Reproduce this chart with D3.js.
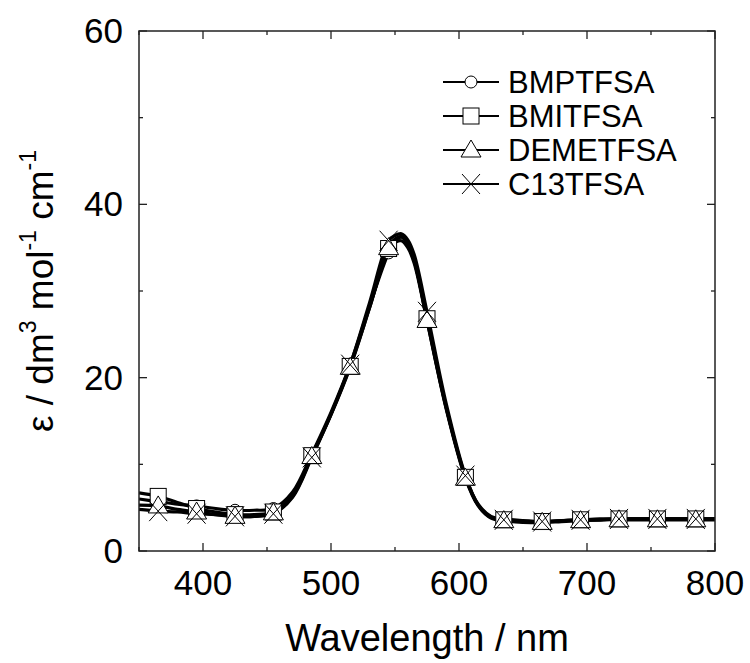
<!DOCTYPE html>
<html>
<head>
<meta charset="utf-8">
<script src="https://d3js.org/d3.v7.min.js"></script>
<style>
  body { margin: 0; background: #fff; }
  text { font-family: Arial, "Liberation Sans", sans-serif; fill: #000; }
</style>
</head>
<body>
<svg id="chart" width="750" height="663"></svg>
<script>
  // wavelength grid (nm)
  const wavelengths = [350, 365, 380, 395, 410, 425, 440, 455, 470, 485, 500, 515, 530, 545, 550, 555, 560, 565, 575, 590, 605, 615, 625, 635, 650, 665, 680, 695, 710, 725, 740, 755, 770, 785, 800];
  // markers every 30 nm
  const markerWavelengths = [365, 395, 425, 455, 485, 515, 545, 575, 605, 635, 665, 695, 725, 755, 785];

  const seriesNames = ["BMPTFSA", "BMITFSA", "DEMETFSA", "C13TFSA"];
  const seriesSymbols = ["circle", "square", "triangle", "cross"];

  const bmptfsa = [6.0, 5.7, 5.4, 5.2, 4.9, 4.7, 4.7, 4.9, 6.8, 11.2, 16.0, 21.5, 28.2, 34.4, 35.6, 35.8, 35.0, 33.2, 26.6, 16.5, 8.6, 5.4, 4.0, 3.7, 3.5, 3.4, 3.5, 3.6, 3.7, 3.7, 3.7, 3.7, 3.7, 3.7, 3.7];
  const bmitfsa = [6.7, 6.3, 5.6, 4.9, 4.5, 4.2, 4.2, 4.5, 6.4, 11.0, 15.8, 21.3, 28.0, 34.9, 35.8, 36.2, 35.4, 33.5, 26.8, 16.6, 8.5, 5.3, 3.9, 3.6, 3.4, 3.4, 3.5, 3.6, 3.6, 3.7, 3.7, 3.7, 3.7, 3.7, 3.7];
  const demetfsa = [5.3, 5.2, 4.8, 4.5, 4.2, 4.0, 4.0, 4.4, 6.3, 10.9, 15.7, 21.2, 28.0, 35.0, 36.0, 36.3, 35.6, 33.6, 26.6, 16.4, 8.4, 5.2, 3.8, 3.5, 3.3, 3.3, 3.4, 3.5, 3.6, 3.6, 3.6, 3.6, 3.6, 3.6, 3.6];
  const c13tfsa = [4.8, 4.6, 4.5, 4.3, 4.2, 4.0, 4.0, 4.3, 6.2, 10.8, 15.8, 21.5, 28.6, 35.8, 36.4, 36.6, 35.9, 34.2, 27.6, 17.0, 8.7, 5.3, 3.9, 3.6, 3.4, 3.4, 3.5, 3.6, 3.6, 3.7, 3.7, 3.7, 3.7, 3.7, 3.7];
  const allSeries = [bmptfsa, bmitfsa, demetfsa, c13tfsa];

  const xTicks = [400, 500, 600, 700, 800];
  const xMinorTicks = [350, 450, 550, 650, 750];
  const yTicks = [0, 20, 40, 60];
  const yMinorTicks = [10, 30, 50];

  const svg = d3.select("#chart");
  const mLeft = 139, mRight = 715, mTop = 31, mBottom = 551;

  let x = d3.scaleLinear().domain([350, 800]).range([mLeft, mRight]);
  let y = d3.scaleLinear().domain([0, 60]).range([mBottom, mTop]);

  let plot = svg.append("g");

  // inward ticks on all four sides
  const frameColor = "#222";
  function ticks(scale, vals, len, side) {
    vals.forEach(v => {
      let p = scale(v);
      if (side === "bottom") plot.append("line").attr("x1", p).attr("x2", p).attr("y1", mBottom).attr("y2", mBottom - len);
      if (side === "top") plot.append("line").attr("x1", p).attr("x2", p).attr("y1", mTop).attr("y2", mTop + len);
      if (side === "left") plot.append("line").attr("x1", mLeft).attr("x2", mLeft + len).attr("y1", p).attr("y2", p);
      if (side === "right") plot.append("line").attr("x1", mRight).attr("x2", mRight - len).attr("y1", p).attr("y2", p);
    });
  }
  ticks(x, xTicks, 8, "bottom");
  ticks(x, xMinorTicks, 4, "bottom");
  ticks(x, xTicks, 8, "top");
  ticks(x, xMinorTicks, 4, "top");
  ticks(y, yTicks, 8, "left");
  ticks(y, yMinorTicks, 4, "left");
  ticks(y, yTicks, 8, "right");
  ticks(y, yMinorTicks, 4, "right");
  plot.selectAll("line").attr("stroke", frameColor).attr("stroke-width", 1.3);

  // curves
  let line = d3.line()
    .x((d, i) => x(wavelengths[i]))
    .y(d => y(d))
    .curve(d3.curveCatmullRom.alpha(0.5));

  svg.append("clipPath").attr("id", "clip")
    .append("rect").attr("x", mLeft).attr("y", mTop).attr("width", mRight - mLeft).attr("height", mBottom - mTop);

  let curves = svg.append("g").attr("clip-path", "url(#clip)");
  allSeries.forEach(s => {
    curves.append("path")
      .attr("d", line(s))
      .attr("fill", "none")
      .attr("stroke", "#000")
      .attr("stroke-width", 3.2);
  });

  // marker drawing
  function drawMarker(g, type, cx, cy) {
    if (type === "circle") {
      g.append("circle").attr("cx", cx).attr("cy", cy).attr("r", 6)
        .attr("fill", "#fff").attr("stroke", "#000").attr("stroke-width", 1);
    } else if (type === "square") {
      g.append("rect").attr("x", cx - 8).attr("y", cy - 8).attr("width", 16).attr("height", 16)
        .attr("fill", "#fff").attr("stroke", "#000").attr("stroke-width", 1);
    } else if (type === "triangle") {
      g.append("path").attr("d", `M${cx},${cy - 10}L${cx + 10},${cy + 7}L${cx - 10},${cy + 7}Z`)
        .attr("fill", "#fff").attr("stroke", "#000").attr("stroke-width", 1);
    } else {
      g.append("path").attr("d", `M${cx - 9},${cy - 10}L${cx + 9},${cy + 10}M${cx + 9},${cy - 10}L${cx - 9},${cy + 10}`)
        .attr("fill", "none").attr("stroke", "#000").attr("stroke-width", 1);
    }
  }

  let markers = svg.append("g");
  allSeries.forEach((s, k) => {
    markerWavelengths.forEach(w => {
      let i = wavelengths.indexOf(w);
      drawMarker(markers, seriesSymbols[k], x(w), y(s[i]));
    });
  });

  // frame
  svg.append("rect")
    .attr("x", mLeft).attr("y", mTop)
    .attr("width", mRight - mLeft).attr("height", mBottom - mTop)
    .attr("fill", "none").attr("stroke", frameColor).attr("stroke-width", 1.5);

  // tick labels
  svg.selectAll(".xl").data(xTicks).enter().append("text")
    .attr("x", d => x(d)).attr("y", mBottom + 44)
    .attr("text-anchor", "middle").style("font-size", "35px")
    .text(d => d);
  svg.selectAll(".yl").data(yTicks).enter().append("text")
    .attr("x", mLeft - 16).attr("y", d => y(d) + 12)
    .attr("text-anchor", "end").style("font-size", "35px")
    .text(d => d);

  // axis titles
  svg.append("text")
    .attr("x", (mLeft + mRight) / 2).attr("y", 651)
    .attr("text-anchor", "middle").style("font-size", "38px")
    .text("Wavelength / nm");

  let yt = svg.append("text")
    .attr("transform", `translate(53,${(mTop + mBottom) / 2}) rotate(-90)`)
    .attr("text-anchor", "middle").style("font-size", "37px");
  yt.append("tspan").text("ε / dm");
  yt.append("tspan").attr("dy", -17).style("font-size", "23px").text("3");
  yt.append("tspan").attr("dy", 17).text(" mol");
  yt.append("tspan").attr("dy", -17).style("font-size", "23px").text("-1");
  yt.append("tspan").attr("dy", 17).text(" cm");
  yt.append("tspan").attr("dy", -17).style("font-size", "23px").text("-1");

  // legend
  let legend = svg.append("g");
  const legendY = [82, 116, 150, 184];
  seriesNames.forEach((name, k) => {
    let ly = legendY[k];
    legend.append("line").attr("x1", 443).attr("x2", 499).attr("y1", ly).attr("y2", ly)
      .attr("stroke", "#000").attr("stroke-width", 2.2);
    drawMarker(legend, seriesSymbols[k], 471, ly);
    legend.append("text").attr("x", 508).attr("y", ly + 11)
      .style("font-size", "31px").text(name);
  });
</script>
</body>
</html>
